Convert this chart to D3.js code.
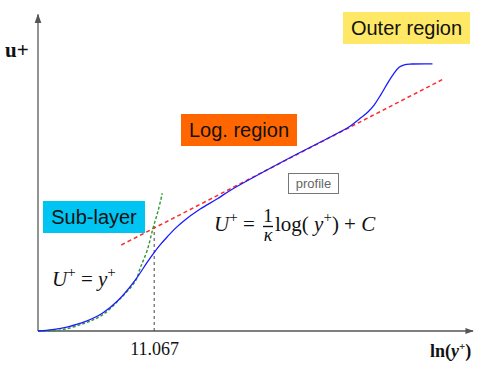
<!DOCTYPE html>
<html>
<head>
<meta charset="utf-8">
<script src="https://cdn.jsdelivr.net/npm/d3@7"></script>
<style>
  body { margin: 0; background: #fff; }
  svg { display: block; }
</style>
</head>
<body>
<div id="chart"></div>
<script>
var svgWidth = 489;
var svgHeight = 370;

// velocity profile, ln(y+) vs U+
var profileLn = [-0.23, 0.10, 0.45, 0.84, 1.23, 1.59, 1.98, 2.25, 2.40, 2.55, 2.70, 2.88, 3.07, 3.45, 3.84, 4.13, 5.40, 6.63, 6.85, 7.08, 7.25, 7.40, 7.55, 7.70, 7.85, 7.97, 8.08, 8.25, 8.72];
var profileU  = [0, 0.15, 0.45, 1.0, 1.9, 3.3, 5.5, 7.4, 8.4, 9.3, 10.1, 11.0, 11.8, 13.1, 14.2, 15.1, 18.4, 21.4, 22.0, 22.85, 23.5, 24.3, 25.4, 26.6, 27.7, 28.35, 28.6, 28.68, 28.7];

// viscous sub-layer U+ = y+
var subLn = [-0.23, 0.27, 0.84, 1.23, 1.63, 1.98, 2.09, 2.25, 2.38, 2.50, 2.59];
var subU  = [0, 0.1, 0.86, 1.72, 3.44, 5.37, 6.77, 8.70, 11.06, 13.0, 14.8];

// log law
var logLn = [1.66, 8.97];
var logU  = [9.24, 27.07];

// crossing point
var crossLn = 2.406;
var crossU = 11.3;
var crossLabel = "11.067";

var x = d3.scaleLinear().domain([-0.23, 9.64]).range([38, 473]);
var y = d3.scaleLinear().domain([0, 34]).range([331, 14.5]);

var svg = d3.select("#chart")
  .append("svg")
  .attr("width", svgWidth)
  .attr("height", svgHeight);

var defs = svg.append("defs");
defs.append("marker")
  .attr("id", "arrow")
  .attr("viewBox", "0 0 10 10")
  .attr("refX", 9).attr("refY", 5)
  .attr("markerWidth", 6).attr("markerHeight", 6)
  .attr("orient", "auto")
  .append("path")
  .attr("d", "M0,1.5 L10,5 L0,8.5 Z")
  .attr("fill", "#555");

// axes (no ticks, only the one labelled value)
svg.append("line")
  .attr("x1", x(-0.23)).attr("y1", y(0))
  .attr("x2", x(-0.23)).attr("y2", y(34))
  .attr("stroke", "#777").attr("stroke-width", 1.6)
  .attr("marker-end", "url(#arrow)");

svg.append("line")
  .attr("x1", x(-0.23)).attr("y1", y(0))
  .attr("x2", x(9.64)).attr("y2", y(0))
  .attr("stroke", "#555").attr("stroke-width", 1.4)
  .attr("marker-end", "url(#arrow)");

var xAxis = svg.append("g")
  .attr("transform", `translate(0, ${y(0)})`)
  .call(d3.axisBottom(x).tickValues([crossLn]).tickFormat(() => crossLabel).tickSize(0).tickPadding(11));
xAxis.select(".domain").remove();
xAxis.selectAll("text")
  .attr("font-family", "Liberation Serif, Times New Roman, serif")
  .attr("font-size", 18)
  .attr("fill", "#111");

// labels on boxes
function boxLabel(x0, y0, w, h, fill, label) {
  svg.append("rect")
    .attr("x", x0).attr("y", y0).attr("width", w).attr("height", h)
    .attr("fill", fill);
  svg.append("text")
    .attr("x", x0 + w / 2).attr("y", y0 + h / 2 + 7)
    .attr("text-anchor", "middle")
    .attr("font-family", "Liberation Sans, Arial, sans-serif")
    .attr("font-size", 20)
    .attr("fill", "#111")
    .text(label);
}
boxLabel(343, 12, 127, 32, "#FFE866", "Outer region");
boxLabel(181, 114, 116, 32, "#FF6600", "Log. region");
boxLabel(43, 201, 102, 32, "#00C4F2", "Sub-layer");

// crossing guide
svg.append("line")
  .attr("x1", x(crossLn)).attr("y1", y(0))
  .attr("x2", x(crossLn)).attr("y2", y(crossU))
  .attr("stroke", "#444").attr("stroke-width", 1)
  .attr("stroke-dasharray", "3,3");

var line = d3.line()
  .x(d => x(d[0]))
  .y(d => y(d[1]));

svg.append("path")
  .datum(logLn.map((v, i) => [v, logU[i]]))
  .attr("d", line)
  .attr("fill", "none")
  .attr("stroke", "#FF2a2a")
  .attr("stroke-width", 1.5)
  .attr("stroke-dasharray", "4,3");

svg.append("path")
  .datum(subLn.map((v, i) => [v, subU[i]]))
  .attr("d", line.curve(d3.curveCatmullRom))
  .attr("fill", "none")
  .attr("stroke", "#2E9B2E")
  .attr("stroke-width", 1.4)
  .attr("stroke-dasharray", "3,2");

svg.append("path")
  .datum(profileLn.map((v, i) => [v, profileU[i]]))
  .attr("d", line.curve(d3.curveCatmullRom))
  .attr("fill", "none")
  .attr("stroke", "#1a1aff")
  .attr("stroke-width", 1.3);

// profile tag
svg.append("rect")
  .attr("x", 288.5).attr("y", 173.5).attr("width", 50).attr("height", 20)
  .attr("fill", "#fff").attr("stroke", "#777").attr("stroke-width", 1);
svg.append("text")
  .attr("x", 313.5).attr("y", 188)
  .attr("text-anchor", "middle")
  .attr("font-family", "Liberation Sans, Arial, sans-serif")
  .attr("font-size", 13)
  .attr("fill", "#666")
  .text("profile");

// axis titles
svg.append("text")
  .attr("x", 5).attr("y", 57)
  .attr("font-family", "Liberation Serif, Times New Roman, serif")
  .attr("font-size", 21)
  .attr("font-weight", "bold")
  .attr("fill", "#111")
  .text("u+");

var xt = svg.append("text")
  .attr("x", 430).attr("y", 357)
  .attr("font-family", "Liberation Serif, Times New Roman, serif")
  .attr("font-size", 18)
  .attr("font-weight", "bold")
  .attr("fill", "#111");
xt.append("tspan").text("ln(");
xt.append("tspan").attr("font-style", "italic").text("y");
xt.append("tspan").attr("font-size", 11).attr("dy", -7).text("+");
xt.append("tspan").attr("dy", 7).text(")");

// equations
var mathFont = "Liberation Serif, Times New Roman, serif";
var eq1 = svg.append("text")
  .attr("x", 52).attr("y", 286)
  .attr("font-family", mathFont)
  .attr("font-size", 21)
  .attr("fill", "#111");
eq1.append("tspan").attr("font-style", "italic").text("U");
eq1.append("tspan").attr("font-size", 15).attr("dy", -9).text("+");
eq1.append("tspan").attr("dy", 9).text(" = ");
eq1.append("tspan").attr("font-style", "italic").text("y");
eq1.append("tspan").attr("font-size", 15).attr("dy", -9).text("+");

var eq2 = svg.append("text")
  .attr("x", 214).attr("y", 231)
  .attr("font-family", mathFont)
  .attr("font-size", 21)
  .attr("fill", "#111");
eq2.append("tspan").attr("font-style", "italic").text("U");
eq2.append("tspan").attr("font-size", 15).attr("dy", -9).text("+");
eq2.append("tspan").attr("dy", 9).text(" =");

svg.append("text")
  .attr("x", 268).attr("y", 222)
  .attr("text-anchor", "middle")
  .attr("font-family", mathFont).attr("font-size", 19).attr("fill", "#111")
  .text("1");
svg.append("line")
  .attr("x1", 263).attr("x2", 273).attr("y1", 226.5).attr("y2", 226.5)
  .attr("stroke", "#111").attr("stroke-width", 1.4);
svg.append("text")
  .attr("x", 268).attr("y", 241)
  .attr("text-anchor", "middle")
  .attr("font-family", mathFont).attr("font-size", 18).attr("font-style", "italic").attr("fill", "#111")
  .text("κ");

var eq3 = svg.append("text")
  .attr("x", 275).attr("y", 231)
  .attr("font-family", mathFont)
  .attr("font-size", 21)
  .attr("fill", "#111");
eq3.append("tspan").text("log( ");
eq3.append("tspan").attr("font-style", "italic").text("y");
eq3.append("tspan").attr("font-size", 15).attr("dy", -9).text("+");
eq3.append("tspan").attr("dy", 9).text(") + ");
eq3.append("tspan").attr("font-style", "italic").text("C");
</script>
</body>
</html>
